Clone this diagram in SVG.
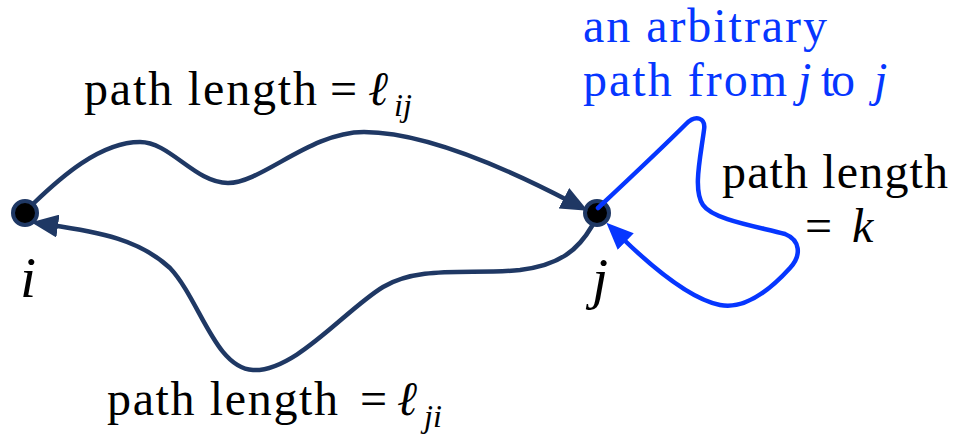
<svg xmlns="http://www.w3.org/2000/svg" width="955" height="440" viewBox="0 0 955 440">
<style>
  .math { font-style: italic; }
  .node-dot { fill: #000; stroke: #1f3864; stroke-width: 4; }
  .edge-navy { fill: none; stroke: #1f3864; stroke-width: 4.5; stroke-linecap: round; }
  .edge-blue { fill: none; stroke: #0636ff; stroke-width: 4.5; stroke-linecap: round; }
</style>
<defs>
  <marker id="arrNavy" viewBox="0 0 27 23" refX="8" refY="11.5" markerWidth="27" markerHeight="23" markerUnits="userSpaceOnUse" orient="auto">
    <path d="M0,0 L27,11.5 L0,23 z" fill="#1f3864"/>
  </marker>
  <marker id="arrBlue" viewBox="0 0 27 23" refX="8" refY="11.5" markerWidth="27" markerHeight="23" markerUnits="userSpaceOnUse" orient="auto">
    <path d="M0,0 L27,11.5 L0,23 z" fill="#0636ff"/>
  </marker>
</defs>

<g id="node-i">
  <circle class="node-dot" cx="25" cy="213" r="12"/>
  <text font-family="Liberation Serif" font-size="58" font-style="italic" x="28" y="297" text-anchor="middle">i</text>
</g>
<g id="node-j">
  <circle class="node-dot" cx="597" cy="213" r="12"/>
  <text font-family="Liberation Serif" font-size="58" font-style="italic" x="600" y="298" text-anchor="middle">j</text>
</g>

<g id="connectors">
  <path class="edge-navy" marker-end="url(#arrNavy)" d="M 34 203 C 60 178, 100 142, 140 142 C 170 142, 195 183, 228 183 C 262 183, 310 132, 364 132 C 420 132, 500 165, 571 202"/>
  <path class="edge-navy" marker-end="url(#arrNavy)" d="M 592 226 C 578 250, 560 265, 520 270 C 470 275, 420 265, 383 287 C 345 310, 295 372, 253 370 C 215 368, 200 300, 170 268 C 140 240, 100 232, 50 225"/>
  <path class="edge-blue" marker-end="url(#arrBlue)" d="M 598 208 C 630 178, 670 140, 686 124 C 696 114, 706 118, 704 130 C 700 160, 693 190, 703 205 C 713 220, 760 227, 785 234 C 800 240, 802 255, 790 268 C 770 290, 745 310, 720 305 C 695 300, 660 275, 620 236"/>
</g>

<g id="labels">
  <text font-family="Liberation Serif" font-size="48" y="105"><tspan x="84" textLength="233">path length</tspan><tspan x="330">=</tspan><tspan x="368" class="math">ℓ</tspan><tspan x="394" y="116" font-size="32" class="math">ij</tspan></text>
  <text font-family="Liberation Serif" font-size="48" y="415"><tspan x="107" textLength="231">path length</tspan><tspan x="360">=</tspan><tspan x="397" class="math">ℓ</tspan><tspan x="424" y="427" font-size="32" class="math">ji</tspan></text>
  <text font-family="Liberation Serif" font-size="48" x="722" y="188" textLength="226">path length</text>
  <text font-family="Liberation Serif" font-size="48" y="242"><tspan x="805">=</tspan><tspan x="852" class="math">k</tspan></text>
  <text font-family="Liberation Serif" font-size="48" fill="#0636ff" x="583" y="42" textLength="244">an arbitrary</text>
  <text font-family="Liberation Serif" font-size="48" fill="#0636ff" y="96"><tspan x="583" textLength="204">path from</tspan><tspan x="798" class="math">j</tspan><tspan x="821" textLength="34">to</tspan><tspan x="874" class="math">j</tspan></text>
</g>
</svg>
